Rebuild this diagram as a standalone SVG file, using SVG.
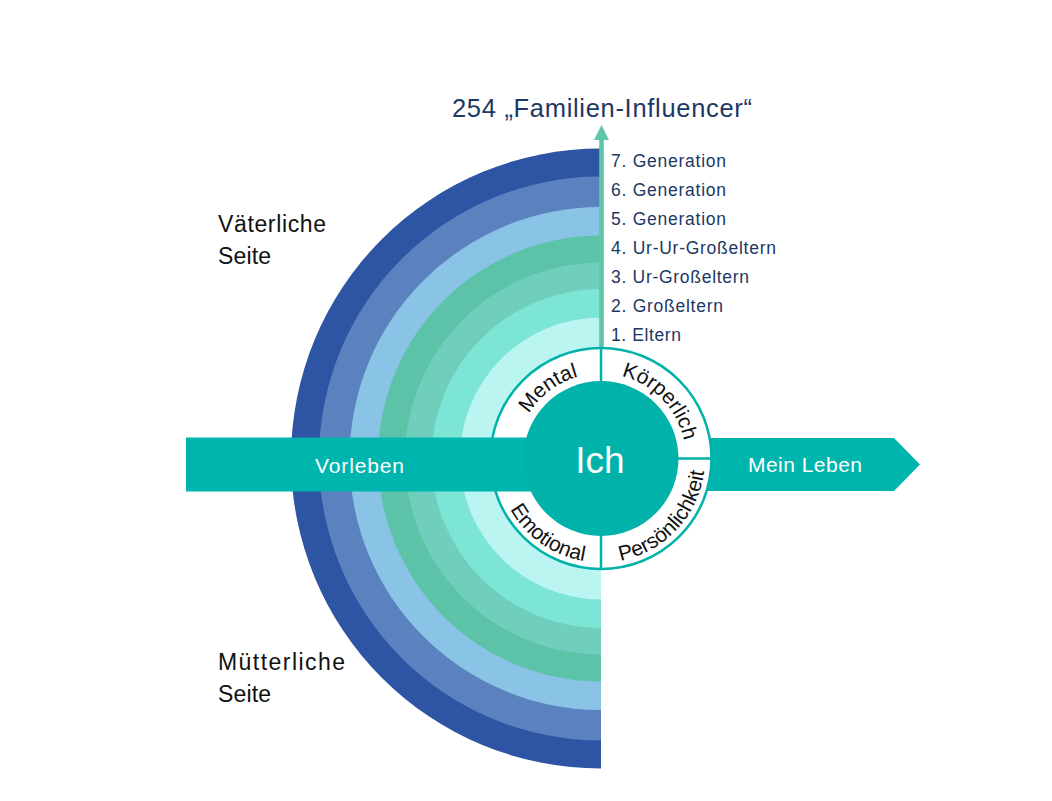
<svg xmlns="http://www.w3.org/2000/svg" width="1052" height="801" viewBox="0 0 1052 801">
<style>
text{font-family:"Liberation Sans",Arial,sans-serif}
.gen{font-size:17.5px;fill:#203864}
.side{font-size:23px;fill:#111}
.wl{font-size:21px;fill:#fff}
.ring{font-size:21px;fill:#111}
</style>
<defs>
<path id="pMental" d="M516,458.5 A85,85 0 0 1 601,373.5"/>
<path id="pKoerper" d="M601,373.5 A85,85 0 0 1 686,458.5"/>
<path id="pEmo" d="M497,458.5 A104,104 0 0 0 601,562.5"/>
<path id="pPers" d="M601,562.5 A104,104 0 0 0 705,458.5"/>
</defs>
<rect width="1052" height="801" fill="#fff"/>
<g id="bands">
<path d="M601,148.5 A310,310 0 0 0 601,768.5 Z" fill="#2E54A4"/>
<path d="M601,176.5 A282,282 0 0 0 601,740.5 Z" fill="#5B82BF"/>
<path d="M601,207 A251.5,251.5 0 0 0 601,710 Z" fill="#89C3E5"/>
<path d="M601,235.5 A223,223 0 0 0 601,681.5 Z" fill="#5CC3A8"/>
<path d="M601,262.5 A196,196 0 0 0 601,654.5 Z" fill="#70CFBC"/>
<path d="M601,289 A169.5,169.5 0 0 0 601,628 Z" fill="#7DE5D5"/>
<path d="M601,317.5 A141,141 0 0 0 601,599.5 Z" fill="#BBF5F1"/>
</g>
<g id="connectors">
<polygon id="arrow-right" points="650,438 894,438 920,464.5 894,491 650,491" fill="#00B5AD"/>
<g id="arrow-up">
<rect x="599.2" y="138" width="4.6" height="211" fill="#5EC6A9"/>
<polygon points="594,140 609,140 601.5,125" fill="#5EC6A9"/>
</g>
</g>
<g id="ring">
<circle cx="601" cy="458.5" r="110.5" fill="#fff" stroke="#00B2AA" stroke-width="2.5"/>
</g>
<rect id="arrow-left" x="186" y="437.5" width="415" height="54" fill="#00B5AD"/>
<g id="ich">
<circle cx="601" cy="458.5" r="77.5" fill="#00B2AA"/>
<g stroke="#00B2AA" stroke-width="2.5">
<line x1="601" y1="348" x2="601" y2="381"/>
<line x1="601" y1="536" x2="601" y2="569"/>
<line x1="678" y1="458.5" x2="711" y2="458.5"/>
</g>
<text x="600" y="473" font-size="37" fill="#fff" text-anchor="middle">Ich</text>
</g>
<g id="ring-labels">
<text class="ring"><textPath href="#pMental" startOffset="59%" text-anchor="middle">Mental</textPath></text>
<text class="ring"><textPath href="#pKoerper" startOffset="51%" text-anchor="middle">Körperlich</textPath></text>
<text class="ring"><textPath href="#pEmo" startOffset="61%" text-anchor="middle">Emotional</textPath></text>
<text class="ring"><textPath href="#pPers" startOffset="52%" text-anchor="middle">Persönlichkeit</textPath></text>
</g>
<g id="flow-labels">
<text class="wl" x="315" y="473" textLength="89">Vorleben</text>
<text class="wl" x="748" y="472" textLength="114">Mein Leben</text>
</g>
<text id="title" x="452" y="117" font-size="25.5" fill="#203864" textLength="300">254 „Familien-Influencer“</text>
<g id="generations">
<text class="gen" x="611" y="166.5" textLength="115">7. Generation</text>
<text class="gen" x="611" y="195.5" textLength="115">6. Generation</text>
<text class="gen" x="611" y="224.5" textLength="115">5. Generation</text>
<text class="gen" x="611" y="253.5" textLength="165">4. Ur-Ur-Großeltern</text>
<text class="gen" x="611" y="282.5" textLength="138">3. Ur-Großeltern</text>
<text class="gen" x="611" y="311.5" textLength="112">2. Großeltern</text>
<text class="gen" x="611" y="340.5" textLength="70">1. Eltern</text>
</g>
<g id="father-side">
<text class="side" x="218" y="231.5" textLength="108">Väterliche</text>
<text class="side" x="218" y="263.5" textLength="53">Seite</text>
</g>
<g id="mother-side">
<text class="side" x="218" y="669.5" textLength="127">Mütterliche</text>
<text class="side" x="218" y="701.5" textLength="53">Seite</text>
</g>
</svg>
